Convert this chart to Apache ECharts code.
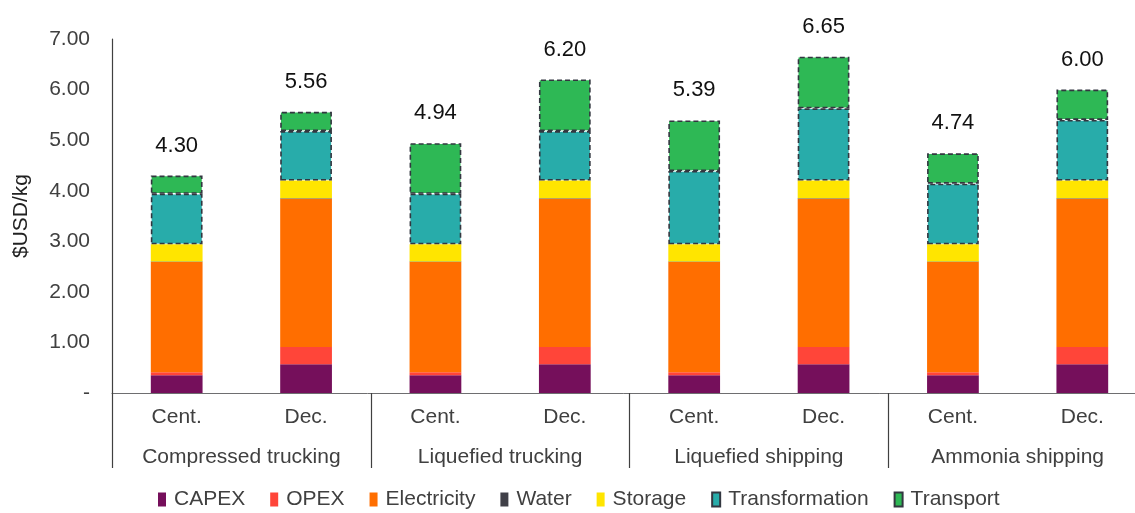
<!DOCTYPE html>
<html><head><meta charset="utf-8">
<script src="https://cdn.jsdelivr.net/npm/echarts@6/dist/echarts.min.js"></script>
<style>html,body{margin:0;padding:0;background:#fff}#c{width:1135px;height:513px}</style>
</head><body><div id="c"></div>
<script>
const subCategories = ['Cent.','Dec.','Cent.','Dec.','Cent.','Dec.','Cent.','Dec.'];
const groups = ['Compressed trucking','Liquefied trucking','Liquefied shipping','Ammonia shipping'];
const capex = [0.35,0.57,0.35,0.57,0.35,0.57,0.35,0.57];
const opex = [0.06,0.34,0.06,0.34,0.06,0.34,0.06,0.34];
const electricity = [2.18,2.93,2.18,2.93,2.18,2.93,2.18,2.93];
const water = [0.01,0.01,0.01,0.01,0.01,0.01,0.01,0.01];
const storage = [0.34,0.35,0.34,0.35,0.34,0.35,0.34,0.35];
const transformation = [1.00,0.98,1.00,0.98,1.45,1.43,1.20,1.20];
const transport = [0.36,0.38,1.00,1.02,1.00,1.02,0.60,0.60];
const totals = ['4.30','5.56','4.94','6.20','5.39','6.65','4.74','6.00'];
const yTicks = [0,1,2,3,4,5,6,7];

const FONT = 'Liberation Sans, Arial, sans-serif';
const chart = echarts.init(document.getElementById('c'));
function bar(name, data, color, dashed, label) {
  const s = {
    name, type: 'bar', stack: 'total', data, barWidth: '40%',
    itemStyle: dashed ? {color, borderColor: '#333740', borderWidth: 1.6, borderType: [5, 3]} : {color},
    emphasis: {disabled: true}
  };
  if (label) {
    s.label = {show: true, position: 'top', distance: 19, color: '#111', fontSize: 22, fontFamily: FONT,
      formatter: p => totals[p.dataIndex]};
  }
  return s;
}
chart.setOption({
  animation: false,
  textStyle: {fontFamily: FONT},
  grid: {left: 112, top: 39, width: 1035, height: 354, outerBoundsMode: 'none', containLabel: false},
  legend: {
    bottom: -2, left: 153, itemWidth: 8, itemHeight: 14, itemGap: 25, icon: 'rect',
    textStyle: {fontSize: 21, color: '#404040', fontFamily: FONT, padding: [0,0,0,3]},
    data: ['CAPEX','OPEX','Electricity','Water','Storage','Transformation','Transport']
  },
  xAxis: [
    {type: 'category', data: subCategories, position: 'bottom',
     axisLine: {lineStyle: {color: '#6e6e70', width: 1}}, axisTick: {show: false},
     axisLabel: {fontSize: 21, color: '#404040', margin: 14, fontFamily: FONT, interval: 0}},
    {type: 'category', data: groups, position: 'bottom', gridIndex: 0,
     axisLine: {show: false},
     axisTick: {show: true, length: 75, interval: 0, lineStyle: {color: '#404040', width: 1.2}},
     axisLabel: {fontSize: 21, color: '#404040', margin: 54, fontFamily: FONT, interval: 0}}
  ],
  yAxis: {
    type: 'value', min: 0, max: 7, interval: 1,
    name: '$USD/kg', nameLocation: 'middle', nameGap: 80, nameRotate: 90,
    nameTextStyle: {fontSize: 21, color: '#222', fontFamily: FONT},
    axisLine: {show: true, lineStyle: {color: '#404040', width: 1.2}},
    axisTick: {show: false}, splitLine: {show: false},
    axisLabel: {fontSize: 21, color: '#404040', margin: 22, fontFamily: FONT,
      formatter: v => yTicks.includes(v) ? (v === 0 ? '-' : v.toFixed(2)) : ''}
  },
  series: [
    bar('CAPEX', capex, '#750F5B'),
    bar('OPEX', opex, '#FF4539'),
    bar('Electricity', electricity, '#FF6E00'),
    bar('Water', water, '#404048'),
    bar('Storage', storage, '#FFE500'),
    bar('Transformation', transformation, '#28ACAA', true),
    bar('Transport', transport, '#2EB855', true, true)
  ]
});
</script></body></html>
